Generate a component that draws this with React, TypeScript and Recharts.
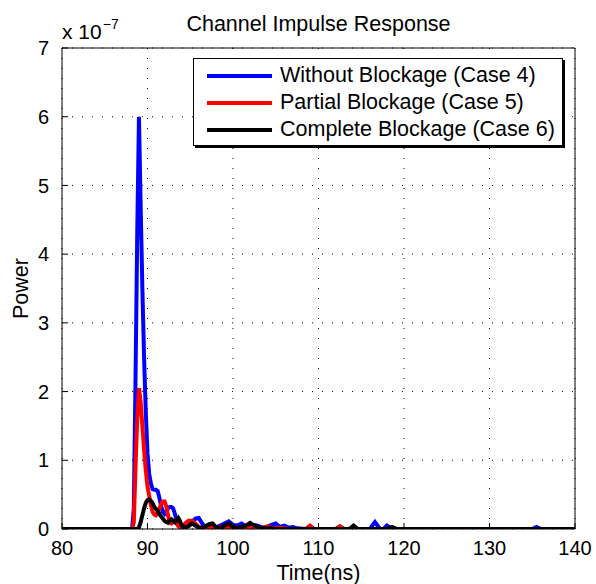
import { LineChart, Line, XAxis, YAxis, CartesianGrid, Legend, ReferenceLine, Label } from "recharts";

// time samples (ns) and power in units of 1e-7
const times = [
  80, 88.2, 88.4, 88.6, 88.8, 89.0, 89.2, 89.4, 89.6, 89.8,
  90.0, 90.2, 90.4, 90.6, 90.8, 91.0, 91.2, 91.4, 91.6, 91.8,
  92.0, 92.2, 92.4, 92.6, 92.8, 93.0, 93.2, 93.4, 93.6, 93.8,
  94.0, 94.4, 94.8, 95.2, 95.6, 96.0, 96.4, 96.8, 97.2, 97.6,
  98.0, 98.5, 99.0, 99.5, 100.0, 100.5, 101.0, 101.5, 102.0, 102.5,
  103.0, 103.5, 104.0, 104.5, 105.0, 105.5, 106.0, 106.5, 107.0, 107.5,
  108.5, 109.0, 109.5, 112.0, 112.5, 113.0, 113.6, 114.1, 114.6, 116.0,
  116.6, 117.2, 117.6, 118.0, 118.6, 119.2, 135.0, 135.5, 136.0, 140,
];

const withoutBlockage = [
  0, 0, 0.3, 2.2, 4.3, 6.0, 4.7, 3.5, 2.5, 1.7,
  1.1, 0.8, 0.66, 0.58, 0.57, 0.57, 0.55, 0.45, 0.33, 0.25,
  0.22, 0.26, 0.3, 0.32, 0.32, 0.3, 0.22, 0.12, 0.06, 0.03,
  0.01, 0.02, 0.05, 0.1, 0.15, 0.16, 0.08, 0.02, 0.03, 0.04,
  0.02, 0.05, 0.08, 0.11, 0.06, 0.05, 0.08, 0.04, 0.03, 0.06,
  0.04, 0.02, 0.03, 0.06, 0.08, 0.03, 0.05, 0.02, 0.03, 0.01,
  0, 0, 0, 0, 0, 0, 0, 0, 0, 0,
  0.1, 0, 0, 0.05, 0, 0, 0, 0.03, 0, 0,
];

const partialBlockage = [
  0, 0, 0.1, 0.9, 1.6, 2.05, 1.85, 1.5, 1.15, 0.85,
  0.62, 0.48, 0.35, 0.25, 0.21, 0.2, 0.24, 0.3, 0.36, 0.4,
  0.4, 0.33, 0.2, 0.1, 0.08, 0.1, 0.12, 0.08, 0.04, 0.02,
  0.03, 0.08, 0.12, 0.12, 0.08, 0.03, 0.01, 0.02, 0.01, 0.02,
  0.01, 0.03, 0.02, 0.02, 0.01, 0.02, 0.01, 0.02, 0.01, 0.02,
  0.01, 0.02, 0.04, 0.02, 0.01, 0.02, 0.01, 0, 0, 0,
  0, 0.05, 0, 0, 0.04, 0, 0, 0, 0, 0,
  0, 0, 0, 0, 0, 0, 0, 0, 0, 0,
];

const completeBlockage = [
  0, 0, 0, 0, 0, 0.02, 0.1, 0.2, 0.3, 0.38,
  0.42, 0.43, 0.41, 0.37, 0.32, 0.29, 0.26, 0.22, 0.18, 0.15,
  0.12, 0.1, 0.09, 0.12, 0.14, 0.12, 0.1, 0.13, 0.16, 0.12,
  0.05, 0.02, 0.04, 0.08, 0.05, 0.02, 0.02, 0.04, 0.07, 0.08,
  0.03, 0.01, 0.05, 0.08, 0.03, 0.02, 0.03, 0.05, 0.09, 0.05,
  0.03, 0.01, 0.01, 0.01, 0, 0, 0, 0, 0, 0,
  0, 0, 0, 0, 0, 0, 0, 0.05, 0, 0,
  0, 0, 0, 0, 0.03, 0, 0, 0, 0, 0,
];

const seriesNames = [
  "Without Blockage (Case 4)",
  "Partial Blockage (Case 5)",
  "Complete Blockage (Case 6)",
];

const xTicks = [80, 90, 100, 110, 120, 130, 140];
const yTicks = [0, 1, 2, 3, 4, 5, 6, 7];

const data = times.map((t, i) => ({
  t,
  blue: withoutBlockage[i],
  red: partialBlockage[i],
  black: completeBlockage[i],
}));

const FONT = "'Liberation Sans', Arial, Helvetica, sans-serif";

function LegendBox(props: any) {
  const items = [...(props.payload || [])].sort(
    (a: any, b: any) => seriesNames.indexOf(a.value) - seriesNames.indexOf(b.value)
  );
  return (
    <div
      style={{
        boxSizing: "border-box",
        width: 370,
        height: 88,
        background: "#fff",
        border: "1px solid #000",
        boxShadow: "2px 2px 0 #000",
        padding: "3px 0 0 13px",
        fontFamily: FONT,
        fontSize: 21.5,
        color: "#000",
        textAlign: "left",
      }}
    >
      {items.map((p: any) => (
        <div key={p.value} style={{ display: "flex", alignItems: "center", height: 27, whiteSpace: "nowrap" }}>
          <div style={{ width: 65, height: 4, background: p.color, marginRight: 8, flex: "none" }} />
          <span>{p.value}</span>
        </div>
      ))}
    </div>
  );
}

export default function App() {
  return (
    <div style={{ position: "absolute", left: 0, top: 0, width: 596, height: 584, background: "#fff", fontFamily: FONT }}>
      <LineChart
        width={596}
        height={584}
        data={data}
        margin={{ top: 48, right: 21, left: 0, bottom: 0 }}
        style={{ fontFamily: FONT }}
      >
        <CartesianGrid stroke="#000" strokeDasharray="1 9" />
        <XAxis
          dataKey="t"
          type="number"
          domain={[80, 140]}
          ticks={xTicks}
          height={55}
          stroke="#000"
          tickSize={-6}
          tickMargin={18}
          tick={{ fill: "#000", fontSize: 20 }}
          allowDataOverflow
        >
          <Label value="Time(ns)" position="insideBottom" offset={4} style={{ fill: "#000", fontSize: 21.5 }} />
        </XAxis>
        <YAxis
          type="number"
          domain={[0, 7]}
          ticks={yTicks}
          width={62}
          stroke="#000"
          tickSize={-6}
          tickMargin={19}
          tick={{ fill: "#000", fontSize: 20 }}
          allowDataOverflow
        >
          <Label value="Power" angle={-90} position="insideLeft" offset={20} style={{ fill: "#000", fontSize: 21.5, textAnchor: "middle" }} />
        </YAxis>
        <ReferenceLine y={7} stroke="#000" />
        <ReferenceLine x={140} stroke="#000" />
        <Legend
          layout="vertical"
          verticalAlign="middle"
          align="center"
          content={<LegendBox />}
          wrapperStyle={{ position: "absolute", left: 193, top: 58, width: 370, height: 88 }}
        />
        <Line dataKey="blue" name={seriesNames[0]} stroke="#0000ff" strokeWidth={4} dot={false} type="linear" isAnimationActive={false} />
        <Line dataKey="red" name={seriesNames[1]} stroke="#ff0000" strokeWidth={4} dot={false} type="linear" isAnimationActive={false} />
        <Line dataKey="black" name={seriesNames[2]} stroke="#000000" strokeWidth={4} dot={false} type="linear" isAnimationActive={false} />
      </LineChart>
      <div style={{ position: "absolute", left: 0, width: 637, top: 14, lineHeight: "21px", textAlign: "center", fontSize: 21.5, color: "#000" }}>
        Channel Impulse Response
      </div>
      <div style={{ position: "absolute", left: 62, top: 21, lineHeight: "21px", fontSize: 21, color: "#000", whiteSpace: "nowrap" }}>
        x 10<span style={{ fontSize: 14, position: "relative", top: -10, marginLeft: 1 }}>−7</span>
      </div>
    </div>
  );
}
